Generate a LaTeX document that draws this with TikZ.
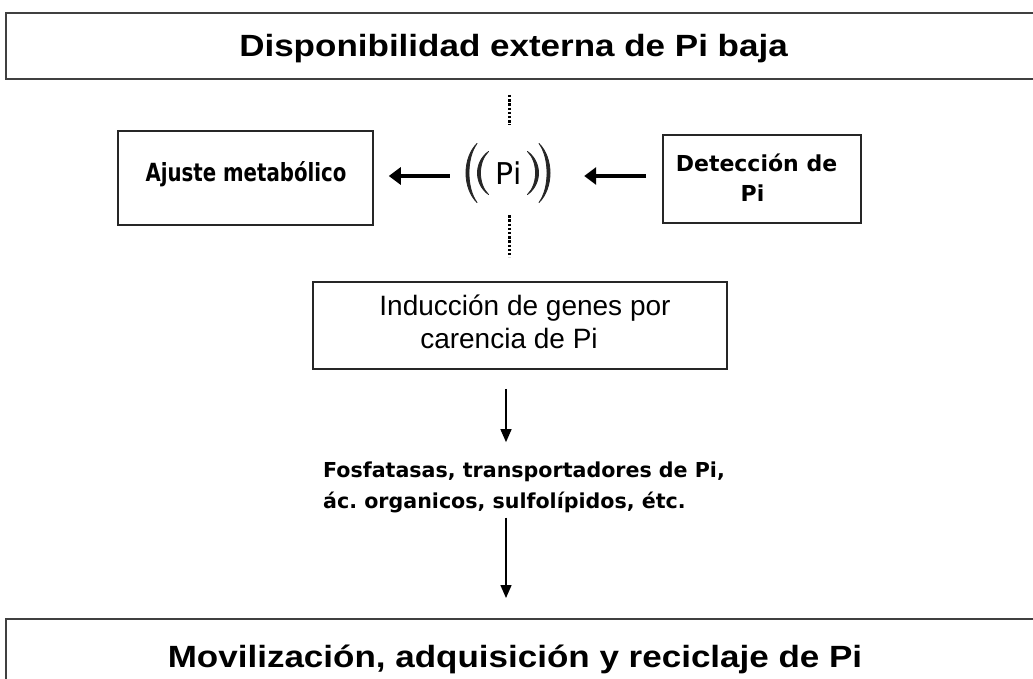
\documentclass[tikz,border=0pt]{standalone}
\usepackage{fontspec}
\newfontfamily\titlefont{Liberation Sans}[FakeStretch=1.14]
\newfontfamily\verdfont{DejaVu Sans}
\newfontfamily\verdnarrow{DejaVu Sans}[FakeStretch=0.79]
\newfontfamily\arialfont{Liberation Sans}
\usetikzlibrary{arrows.meta,calc}
\frenchspacing
\begin{document}
\begin{tikzpicture}[x=1pt,y=-1pt,
  frame/.style={draw=black!75, line width=2pt, inner sep=0pt, anchor=north west},
  box/.style={draw=black!85, line width=1.6pt, inner sep=0pt},
  lbl/.style={inner sep=0pt, anchor=base},
  harr/.style={line width=3.5pt, -{Triangle[length=12pt,width=17pt]}},
  varr/.style={line width=1.5pt, -{Triangle[length=13pt,width=11pt]}},
  dots/.style={line width=3pt, dash pattern=on 2.4pt off 1.8pt},
  parc/.style={fill=black!85, draw=black!85, line width=0.8pt, line join=round}]
\useasboundingbox (0,0) rectangle (1033,679);
\fill[white] (0,0) rectangle (1033,679);
% frames
\node[frame, minimum width=1040pt, minimum height=66pt] (top) at (5,12) {};
\node[frame, minimum width=1040pt, minimum height=80pt] (bot) at (5,618) {};
\node[lbl, font=\titlefont\bfseries\fontsize{30.7}{36}\selectfont] (toptxt) at (513.5,56.5) {Disponibilidad externa de Pi baja};
\node[lbl, font=\titlefont\bfseries\fontsize{30.7}{36}\selectfont] (bottxt) at (515,667) {Movilización, adquisición y reciclaje de Pi};
% boxes
\node[box, minimum width=255pt, minimum height=94pt] (aj) at (245.5,178) {};
\node[lbl, font=\verdnarrow\bfseries\fontsize{25}{30}\selectfont] (ajtxt) at (246,182) {Ajuste metabólico};
\node[box, minimum width=198pt, minimum height=88pt] (det) at (762,179) {};
\node[lbl, font=\verdfont\bfseries\fontsize{22}{29}\selectfont] (dettxt1) at (756.5,172) {Detección de};
\node[lbl, font=\verdfont\bfseries\fontsize{22}{29}\selectfont] (dettxt2) at (752.5,201) {Pi};
\node[box, minimum width=414pt, minimum height=87pt] (ind) at (520,325.5) {};
\node[lbl, font=\arialfont\fontsize{28}{33}\selectfont] (indtxt1) at (525,315) {Inducción de genes por};
\node[lbl, font=\arialfont\fontsize{28}{33}\selectfont] (indtxt2) at (509,348) {carencia de Pi};
% products
\node[inner sep=0pt, anchor=base west, font=\verdfont\bfseries\fontsize{20.6}{31}\selectfont] (fos1) at (323,477) {Fosfatasas, transportadores de Pi,};
\node[inner sep=0pt, anchor=base west, font=\verdfont\bfseries\fontsize{20.6}{31}\selectfont] (fos2) at (323,508) {ác. organicos, sulfolípidos, étc.};
% Pi signal
\node[inner sep=0pt, minimum width=82pt, minimum height=60pt] (pi) at (508,173) {};
\node[lbl, font=\verdfont\fontsize{30}{36}\selectfont] (pitxt) at (508.5,185) {Pi};
\begin{scope}[shift={(pi.center)}]
  \foreach \s in {-1,1}{
    % outer parenthesis
    \path[parc] (\s*31,-29.5) .. controls (\s*45.7,-15) and (\s*45.7,15) .. (\s*31,29.5)
      .. controls (\s*41.7,15) and (\s*41.7,-15) .. cycle;
    % inner parenthesis
    \path[parc] (\s*19.5,-21.5) .. controls (\s*34.2,-11) and (\s*34.2,11) .. (\s*19.5,21.5)
      .. controls (\s*30.2,11) and (\s*30.2,-11) .. cycle;
  }
\end{scope}
% connectors
\coordinate (row) at (0,176);
\coordinate (dt) at (509,0);
\coordinate (ax) at (506,0);
\draw[harr] ($(pi.west |- row)+(-17,0)$) -- ($(aj.east |- row)+(15,0)$);
\draw[harr] ($(det.west |- row)+(-16,0)$) -- ($(pi.east |- row)+(35,0)$);
\draw[dots] ($(top.south -| dt)+(0,15)$) -- ($(pi.north -| dt)+(0,-18)$);
\draw[dots] ($(pi.south -| dt)+(0,12)$) -- ($(ind.north -| dt)+(0,-24)$);
\draw[varr] ($(ind.south -| ax)+(0,19)$) -- ($(fos1.north -| ax)+(0,-19)$);
\draw[varr] ($(fos2.south -| ax)+(0,5)$) -- ($(bot.north -| ax)+(0,-20)$);
\end{tikzpicture}
\end{document}
